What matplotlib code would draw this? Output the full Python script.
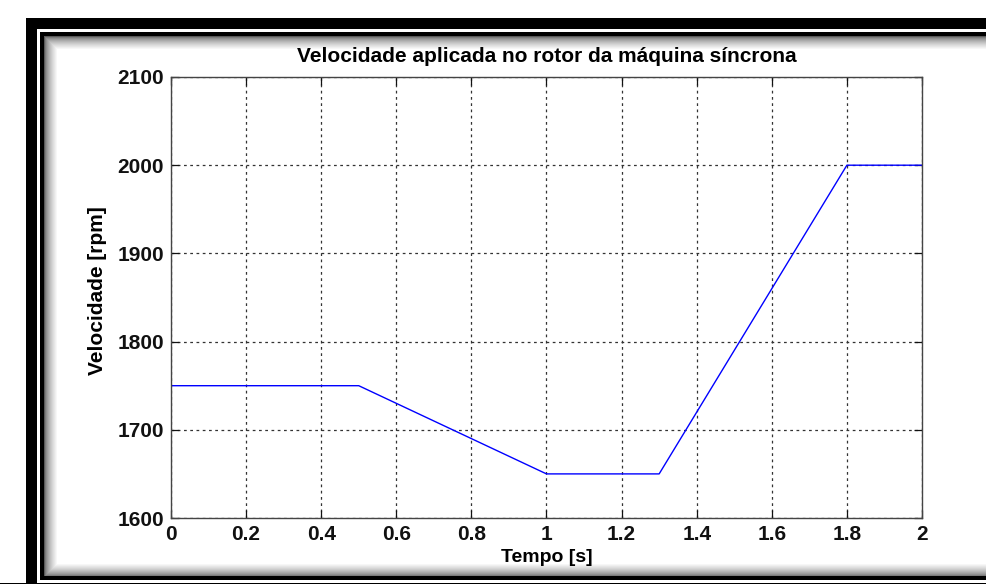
import numpy as np
import matplotlib.pyplot as plt

# rotor speed profile (time in s, speed in rpm)
tempo = [0.0, 0.5, 1.0, 1.3, 1.8, 2.0]
velocidade = [1750, 1750, 1650, 1650, 2000, 2000]
xticks = [0, 0.2, 0.4, 0.6, 0.8, 1, 1.2, 1.4, 1.6, 1.8, 2]
yticks = [1600, 1700, 1800, 1900, 2000, 2100]

W, H = 987, 584
plt.rcParams['font.family'] = ['Liberation Sans', 'DejaVu Sans']
plt.rcParams['font.weight'] = 'bold'

fig = plt.figure(figsize=(W / 100, H / 100), dpi=100)

# picture frame: thick outer band, thin inner line and a soft shadow inside
frame = np.ones((H, W))
yy, xx = np.mgrid[0:H, 0:W]
outer = ((xx >= 26) & (xx < 37) & (yy >= 18)) | ((yy >= 18) & (yy < 29) & (xx >= 26)) | (yy >= 583)
inner = ((xx >= 40) & (xx < 44) & (yy >= 32) & (yy < 580)) | ((yy >= 32) & (yy < 36) & (xx >= 40)) \
    | ((yy >= 576) & (yy < 580) & (xx >= 40))
d = np.minimum(np.minimum(xx - 44, yy - 36), 576 - yy).astype(float)
inside = (xx >= 44) & (yy >= 36) & (yy < 576)
shade = np.clip(d / 13.0, 0, 1) ** 0.6
frame[inside] = 0.35 + 0.65 * shade[inside]
frame[outer] = 0.0
frame[inner] = 0.0
rgb = np.repeat(frame[:, :, None], 3, axis=2)
fig.figimage(rgb, 0, 0, origin='upper', zorder=-5)

ax = fig.add_axes([171 / W, 1 - 518 / H, 751 / W, 441 / H])
ax.set_zorder(2)
ax.plot(tempo, velocidade, color='#0000ff', lw=1.0)
ax.set_xlim(0, 2)
ax.set_ylim(1600, 2100)
ax.set_xticks(xticks)
ax.set_xticklabels([f'{v:g}' for v in xticks])
ax.set_yticks(yticks)
ax.grid(True, color='#333333', linestyle=(0, (2.2, 2.8)), linewidth=0.9)
ax.tick_params(direction='in', length=6, width=0.9, top=True, right=True,
               labelsize=15, pad=5, colors='#111111')
for s in ax.spines.values():
    s.set_color('#444444')
    s.set_linewidth(1.0)

ax.set_title('Velocidade aplicada no rotor da máquina síncrona', fontsize=15,
             fontweight='bold', pad=11)
ax.set_xlabel('Tempo [s]', fontsize=14, fontweight='bold', labelpad=4)
ax.set_ylabel('Velocidade [rpm]', fontsize=15, fontweight='bold')
ax.yaxis.set_label_coords(-0.085, 0.515)

fig.savefig('out.png', dpi=100)
